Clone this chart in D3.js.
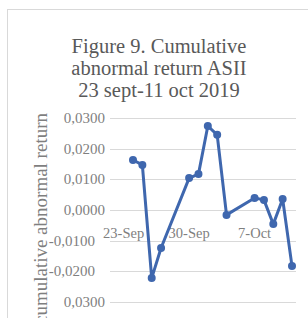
<!DOCTYPE html>
<html>
<head>
<meta charset="utf-8">
<script src="https://cdn.jsdelivr.net/npm/d3@7"></script>
<style>
  html, body { margin: 0; padding: 0; background: #fff; }
  svg { display: block; }
</style>
</head>
<body>
<svg></svg>
<script>
// cumulative abnormal return chart

/*  DATA  */

const titleLines = ['Figure 9. Cumulative', 'abnormal return ASII', '23 sept-11 oct 2019'];
const yTitle = 'cumulative abnormal return';

// trading days (weekends skipped, axis keeps calendar spacing)
const dates = ['2019-09-24','2019-09-25','2019-09-26','2019-09-27',
    '2019-09-30','2019-10-01','2019-10-02','2019-10-03','2019-10-04',
    '2019-10-07','2019-10-08','2019-10-09','2019-10-10','2019-10-11'];
const car = [0.0163, 0.0147, -0.0222, -0.0124,
    0.0104, 0.0117, 0.0274, 0.0245, -0.0016,
    0.0039, 0.0033, -0.0046, 0.0036, -0.0183];

const yTicks = [0.03, 0.02, 0.01, 0, -0.01, -0.02, -0.03];
const yTickLabels = ['0,0300','0,0200','0,0100','0,0000','-0,0100','-0,0200','0,0300'];
const xTickDates = ['2019-09-23','2019-09-30','2019-10-07'];
const xTickLabels = ['23-Sep','30-Sep','7-Oct'];

/*  SETUP  */

const width = 308, height = 318;
const parse = d3.timeParse('%Y-%m-%d');
const blue = '#3f67ae';
const serif = '"Liberation Serif", "Times New Roman", serif';

const svg = d3.select('svg')
    .attr('width', width)
    .attr('height', height);

// chart frame, runs off the right and bottom of the crop
svg.append('rect')
    .attr('x', 7.5).attr('y', 9.5)
    .attr('width', 320).attr('height', 330)
    .attr('fill', '#fff')
    .attr('stroke', '#d9d9d9');

const plotLeft = 110, plotRight = 296;

let x = d3.scaleTime()
    .domain([parse(dates[0]), parse(dates[dates.length - 1])])
    .range([133, 292]);

let y = d3.scaleLinear()
    .domain([-0.03, 0.03])
    .range([302, 118]);

/* TITLE */

svg.append('g').selectAll('text')
    .data(titleLines)
    .join('text')
    .attr('x', 159)
    .attr('y', (d, i) => 53 + i * 22)
    .attr('text-anchor', 'middle')
    .attr('font-family', serif)
    .attr('font-size', 20.5)
    .attr('fill', '#595959')
    .text(d => d);

/* GRID + Y LABELS */

svg.append('g').selectAll('line')
    .data(yTicks)
    .join('line')
    .attr('x1', plotLeft).attr('x2', plotRight)
    .attr('y1', d => Math.round(y(d)) + 0.5)
    .attr('y2', d => Math.round(y(d)) + 0.5)
    .attr('stroke', '#d9d9d9');

svg.append('g').selectAll('text')
    .data(yTicks)
    .join('text')
    .attr('x', (d, i) => yTickLabels[i].startsWith('-') ? 95 : 105)
    .attr('y', d => y(d) + 5)
    .attr('text-anchor', 'end')
    .attr('font-family', serif)
    .attr('font-size', 15)
    .attr('fill', '#7f7f7f')
    .text((d, i) => yTickLabels[i]);

svg.append('text')
    .attr('transform', 'translate(47,113) rotate(-90)')
    .attr('text-anchor', 'end')
    .attr('font-family', serif)
    .attr('font-size', 19)
    .attr('fill', '#7f7f7f')
    .text(yTitle);

/* X LABELS */

svg.append('g').selectAll('text')
    .data(xTickDates)
    .join('text')
    .attr('x', d => x(parse(d)))
    .attr('y', 238)
    .attr('text-anchor', 'middle')
    .attr('font-family', serif)
    .attr('font-size', 14.5)
    .attr('fill', '#7f7f7f')
    .text((d, i) => xTickLabels[i]);

/* SERIES */

const points = dates.map((d, i) => ({date: parse(d), value: car[i]}));

let line = d3.line()
    .x(d => x(d.date))
    .y(d => y(d.value));

svg.append('path')
    .datum(points)
    .attr('d', line)
    .attr('fill', 'none')
    .attr('stroke', blue)
    .attr('stroke-width', 3)
    .attr('stroke-linejoin', 'round');

svg.append('g').selectAll('circle')
    .data(points)
    .join('circle')
    .attr('cx', d => x(d.date))
    .attr('cy', d => y(d.value))
    .attr('r', 4)
    .attr('fill', blue);
</script>
</body>
</html>
